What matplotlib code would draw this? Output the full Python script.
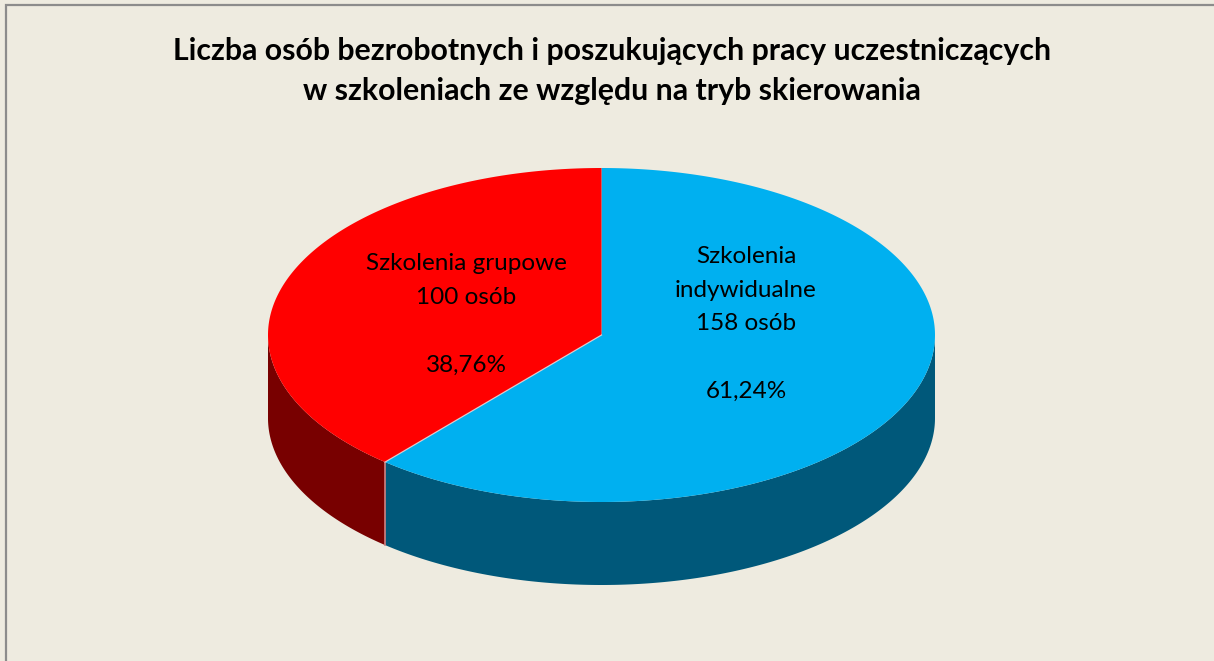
import numpy as np
import matplotlib
matplotlib.use("Agg")
import matplotlib.pyplot as plt
from matplotlib.patches import Polygon, Rectangle

# --- data ---
categories = ["Szkolenia\nindywidualne", "Szkolenia grupowe"]
counts = [158, 100]
top_colors = ["#00B0F0", "#FF0000"]
side_colors = ["#00587A", "#780000"]
title = ("Liczba osób bezrobotnych i poszukujących pracy uczestniczących\n"
         "w szkoleniach ze względu na tryb skierowania")

W, H = 1214, 661
fig = plt.figure(figsize=(W / 100, H / 100), dpi=100)
bg = "#EEEBE0"
fig.patch.set_facecolor(bg)
ax = fig.add_axes([0, 0, 1, 1])
ax.set_xlim(0, W)
ax.set_ylim(H, 0)
ax.axis("off")
ax.set_facecolor(bg)

# chart frame
ax.add_patch(Rectangle((6, 5), W + 10, H + 10, facecolor=bg,
                       edgecolor="#8C8C8C", linewidth=1.6, zorder=0))

# pie geometry (pixel space)
cx, cy, rx, ry, depth = 601.5, 335.0, 333.5, 167.0, 83.0


def pt(theta_deg, dy=0.0):
    t = np.radians(theta_deg)
    return cx + rx * np.cos(t), cy - ry * np.sin(t) + dy


total = float(sum(counts))
fracs = [c / total for c in counts]

# slices go clockwise from 12 o'clock
spans = []
start = 90.0
for f in fracs:
    end = start - f * 360.0
    spans.append((end, start))
    start = end

# side walls (front half: 180..360 degrees)
for (a0, a1), col in zip(spans, side_colors):
    lo, hi = a0 % 360, a0 % 360 + (a1 - a0)
    for shift in (0, 360, -360):
        s0 = max(lo + shift, 180)
        s1 = min(hi + shift, 360)
        if s1 > s0:
            th = np.linspace(s0, s1, 200)
            top = [pt(t) for t in th]
            bot = [pt(t, depth) for t in th[::-1]]
            ax.add_patch(Polygon(top + bot, closed=True, facecolor=col,
                                 edgecolor="none", zorder=2))

# top faces
for (a0, a1), col in zip(spans, top_colors):
    th = np.linspace(a0, a1, 400)
    pts = [(cx, cy)] + [pt(t) for t in th]
    ax.add_patch(Polygon(pts, closed=True, facecolor=col,
                         edgecolor="none", zorder=3))

# slice boundary highlights
b = spans[0][0]
bx, by = pt(b)
ax.plot([cx, bx], [cy, by], color="#E8E0E0", lw=0.9, alpha=0.8, zorder=4)
ax.plot([bx, bx], [by, by + depth], color="#D08080", lw=1.2, zorder=2.5)

# labels
font = "Lato"
positions = [(746, 324), (466, 314)]
for (x, y), name, c, f in zip(positions, categories, counts, fracs):
    pct = f"{f * 100:.2f}%".replace(".", ",")
    txt = f"{name}\n{c} osób\n\n{pct}"
    ax.text(x, y, txt, ha="center", va="center", fontsize=17.5,
            family=font, color="black", linespacing=1.76, zorder=5)

ax.text(W / 2 + 5, 71, title, ha="center", va="center", fontsize=21.8,
        fontweight="bold", family=font, color="black", linespacing=1.55)

fig.savefig("out.png", dpi=100, facecolor=bg)
